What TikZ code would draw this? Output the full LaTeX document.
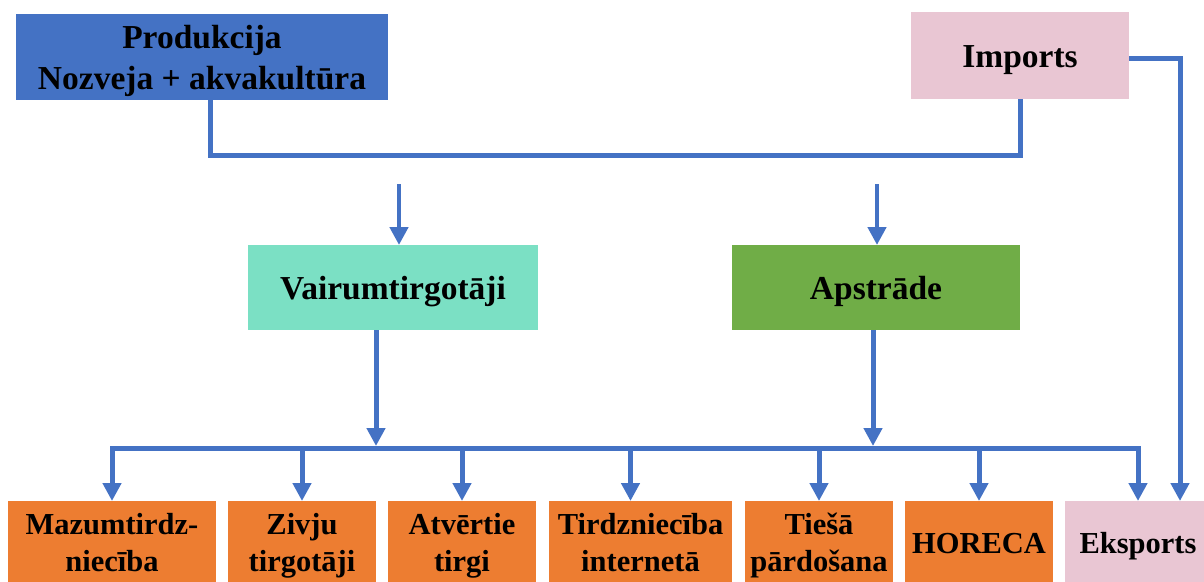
\documentclass[tikz,border=0pt]{standalone}
\usepackage{fontspec}
\setmainfont{Liberation Serif}
\usetikzlibrary{arrows.meta}
\definecolor{lineblue}{HTML}{4472C4}
\definecolor{prodblue}{HTML}{4472C4}
\definecolor{pinkbox}{HTML}{E9C6D3}
\definecolor{tealbox}{HTML}{7BE0C4}
\definecolor{greenbox}{HTML}{70AD47}
\definecolor{orangebox}{HTML}{ED7D31}
\newcommand\twol[2]{\begin{tabular}{@{}c@{}}#1\\#2\end{tabular}}
\newcommand\onel[1]{\begin{tabular}{@{}c@{}}#1\end{tabular}}
\newcommand\dn[1]{\raisebox{-4pt}[\height][\depth]{#1}}
\begin{document}
\begin{tikzpicture}[x=1pt,y=-1pt,
  box/.style={rectangle, inner sep=0pt, outer sep=0pt, anchor=north west, text=black,
    font=\bfseries\fontsize{33.5}{41}\selectfont},
  lowbox/.style={box, font=\bfseries\fontsize{30.5}{37}\selectfont, minimum height=90pt, fill=orangebox},
  conn/.style={draw=lineblue, line width=5pt},
  arr/.style={conn, -{Triangle[width=18pt,length=18pt]}},
  arrs/.style={conn, {Triangle[width=18pt,length=18pt]}-{Triangle[width=18pt,length=18pt]}},
]
\useasboundingbox (0,0) rectangle (1204,581);
\clip (0,0) rectangle (1204,581);

% top row
\node[box, fill=prodblue, minimum width=372pt, minimum height=86pt] (prod) at (16,14)
  {\dn{\twol{Produkcija}{Nozveja + akvakultūra}}};
\node[box, fill=pinkbox, minimum width=218pt, minimum height=87pt] (imp) at (911,12)
  {\dn{\onel{Imports}}};

% middle row
\node[box, fill=tealbox, minimum width=290pt, minimum height=85pt] (vair) at (248,245)
  {\dn{\onel{Vairumtirgotāji}}};
\node[box, fill=greenbox, minimum width=288pt, minimum height=85pt] (apst) at (732,245)
  {\dn{\onel{Apstrāde}}};

% bottom row
\node[lowbox, minimum width=208pt] (maz) at (8,501) {\twol{Mazumtirdz-}{niecība}};
\node[lowbox, minimum width=148pt] (ziv) at (228,501) {\twol{Zivju}{tirgotāji}};
\node[lowbox, minimum width=148pt] (atv) at (388,501) {\twol{Atvērtie}{tirgi}};
\node[lowbox, minimum width=183pt] (tir) at (549,501) {\twol{Tirdzniecība}{internetā}};
\node[lowbox, minimum width=148pt] (ties) at (745,501) {\twol{Tiešā}{pārdošana}};
\node[lowbox, minimum width=148pt] (hor) at (905,501) {\onel{HORECA}};
\node[lowbox, fill=pinkbox, minimum width=146pt] (eks) at (1065,501) {\onel{Eksports}};

% coordinates
\coordinate (va) at (399,184);
\coordinate (aa) at (877,184);
\coordinate (busV) at (376,448);
\coordinate (busA) at (873,448);
\coordinate (tirx) at ([xshift=-10pt]tir.north);

% connectors
\draw[conn] ([xshift=8pt]prod.south) -- ++(0,55) -| (imp.south);
\draw[arr] ([yshift=-2.5pt]imp.east) -| ([xshift=42pt]eks.north);
\draw[arr, line width=4.5pt] (va) -- (va |- vair.north);
\draw[arr, line width=4.5pt] (aa) -- (aa |- apst.north);
\draw[arr] (vair.south -| busV) -- ([yshift=2pt]busV);
\draw[arr] (apst.south -| busA) -- ([yshift=2pt]busA);
\draw[arrs] (maz.north) |- (eks.north |- busV) -- (eks.north);
\foreach \n in {ziv,atv,ties,hor} \draw[arr] (\n.north |- busV) -- (\n.north);
\draw[arr] (tirx |- busV) -- (tirx);
\end{tikzpicture}
\end{document}
